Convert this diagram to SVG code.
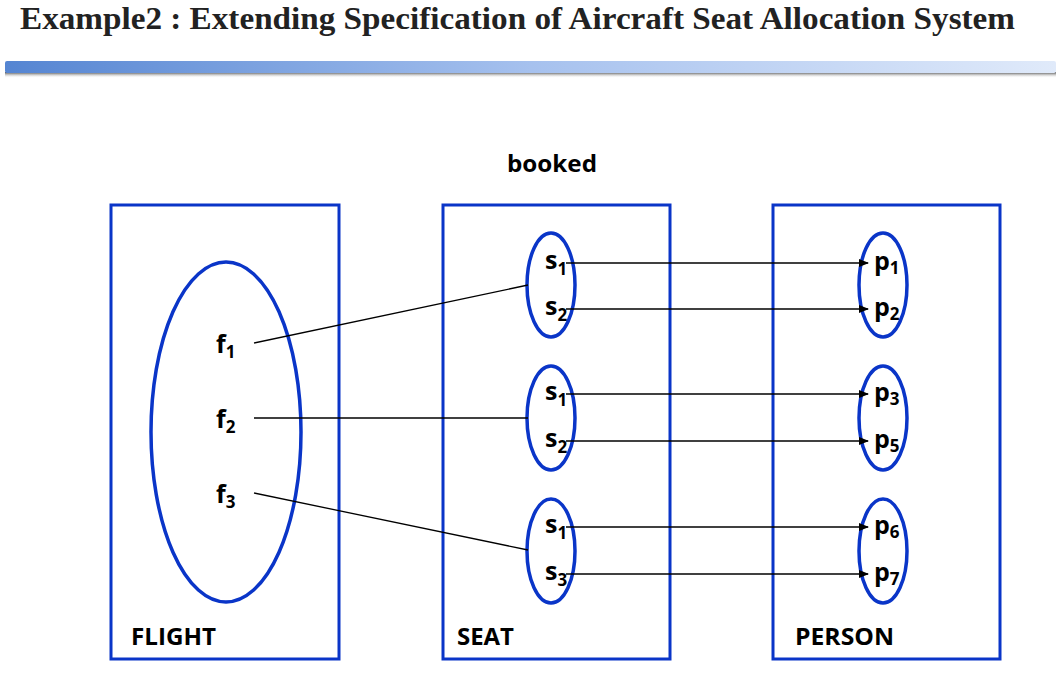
<svg xmlns="http://www.w3.org/2000/svg" width="1056" height="690" viewBox="0 0 1056 690">
<defs>
<linearGradient id="bar" x1="0" y1="0" x2="1" y2="0">
<stop offset="0" stop-color="#5585d2"/>
<stop offset="0.5" stop-color="#a6c1ee"/>
<stop offset="1" stop-color="#e0eafa"/>
</linearGradient>
<linearGradient id="shadow" x1="0" y1="0" x2="0" y2="1">
<stop offset="0" stop-color="#444"/>
<stop offset="1" stop-color="#fff" stop-opacity="0"/>
</linearGradient>
<marker id="arr" markerWidth="10" markerHeight="10" refX="9" refY="5" orient="auto" markerUnits="userSpaceOnUse">
<path d="M0,1 L10,5 L0,9 Z" fill="#000"/>
</marker>
</defs>
<style>
.box{fill:none;stroke:#0a35c8;stroke-width:3}
.ell{fill:none;stroke:#0a35c8;stroke-width:3.5}
.lbl{font-family:"Open Sans","Liberation Sans",sans-serif;font-weight:bold;fill:#000}
.el{font-family:"Open Sans","Liberation Sans",sans-serif;font-weight:bold;font-size:25px;fill:#000}
.sub{font-size:17px}
.con{stroke:#000;stroke-width:1.3;fill:none}
.arrow{stroke:#000;stroke-width:1.3;fill:none;marker-end:url(#arr)}
</style>
<rect width="1056" height="690" fill="#fff"/>
<text x="20" y="29" font-family="Liberation Serif,serif" font-weight="bold" font-size="31" fill="#222" textLength="995" lengthAdjust="spacingAndGlyphs">Example2 : Extending Specification of Aircraft Seat Allocation System</text>
<rect x="5" y="72" width="1051" height="6" fill="url(#shadow)"/>
<rect x="5" y="61" width="1051" height="12" rx="2" fill="url(#bar)"/>
<text class="lbl" x="507" y="172" font-size="24" textLength="90" lengthAdjust="spacingAndGlyphs">booked</text>

<g id="flight">
<rect class="box" x="111" y="205" width="228" height="454"/>
<ellipse class="ell" cx="226" cy="432" rx="75" ry="170"/>
<text class="el" x="216" y="353">f<tspan class="sub" dy="5">1</tspan></text>
<text class="el" x="216" y="428">f<tspan class="sub" dy="5">2</tspan></text>
<text class="el" x="216" y="503">f<tspan class="sub" dy="5">3</tspan></text>
<text class="lbl" x="131" y="645" font-size="24" textLength="85" lengthAdjust="spacingAndGlyphs">FLIGHT</text>
</g>

<g id="seat">
<rect class="box" x="443" y="205" width="227" height="454"/>
<ellipse class="ell" cx="551" cy="285" rx="24" ry="52"/>
<ellipse class="ell" cx="551" cy="418" rx="24" ry="52"/>
<ellipse class="ell" cx="551" cy="551" rx="24" ry="52"/>
<text class="el" x="545" y="269">s<tspan class="sub" dy="6">1</tspan></text>
<text class="el" x="545" y="315">s<tspan class="sub" dy="6">2</tspan></text>
<text class="el" x="545" y="400">s<tspan class="sub" dy="6">1</tspan></text>
<text class="el" x="545" y="447">s<tspan class="sub" dy="6">2</tspan></text>
<text class="el" x="545" y="533">s<tspan class="sub" dy="6">1</tspan></text>
<text class="el" x="545" y="580">s<tspan class="sub" dy="6">3</tspan></text>
<text class="lbl" x="457" y="645" font-size="24" textLength="57" lengthAdjust="spacingAndGlyphs">SEAT</text>
</g>

<g id="person">
<rect class="box" x="773" y="205" width="227" height="454"/>
<ellipse class="ell" cx="883" cy="285" rx="24" ry="52"/>
<ellipse class="ell" cx="883" cy="418" rx="24" ry="52"/>
<ellipse class="ell" cx="883" cy="551" rx="24" ry="52"/>
<text class="el" x="874" y="270">p<tspan class="sub" dy="4">1</tspan></text>
<text class="el" x="874" y="316">p<tspan class="sub" dy="4">2</tspan></text>
<text class="el" x="874" y="401">p<tspan class="sub" dy="4">3</tspan></text>
<text class="el" x="874" y="448">p<tspan class="sub" dy="4">5</tspan></text>
<text class="el" x="874" y="534">p<tspan class="sub" dy="4">6</tspan></text>
<text class="el" x="874" y="581">p<tspan class="sub" dy="4">7</tspan></text>
<text class="lbl" x="795" y="645" font-size="24" textLength="99" lengthAdjust="spacingAndGlyphs">PERSON</text>
</g>

<g id="connectors">
<line class="con" x1="254" y1="343" x2="528" y2="285"/>
<line class="con" x1="254" y1="418" x2="528" y2="418"/>
<line class="con" x1="254" y1="493" x2="528" y2="550"/>
<line class="arrow" x1="566" y1="263" x2="868" y2="263"/>
<line class="arrow" x1="566" y1="309" x2="868" y2="309"/>
<line class="arrow" x1="566" y1="394" x2="868" y2="394"/>
<line class="arrow" x1="566" y1="441" x2="868" y2="441"/>
<line class="arrow" x1="566" y1="527" x2="868" y2="527"/>
<line class="arrow" x1="566" y1="574" x2="868" y2="574"/>
</g>
</svg>
